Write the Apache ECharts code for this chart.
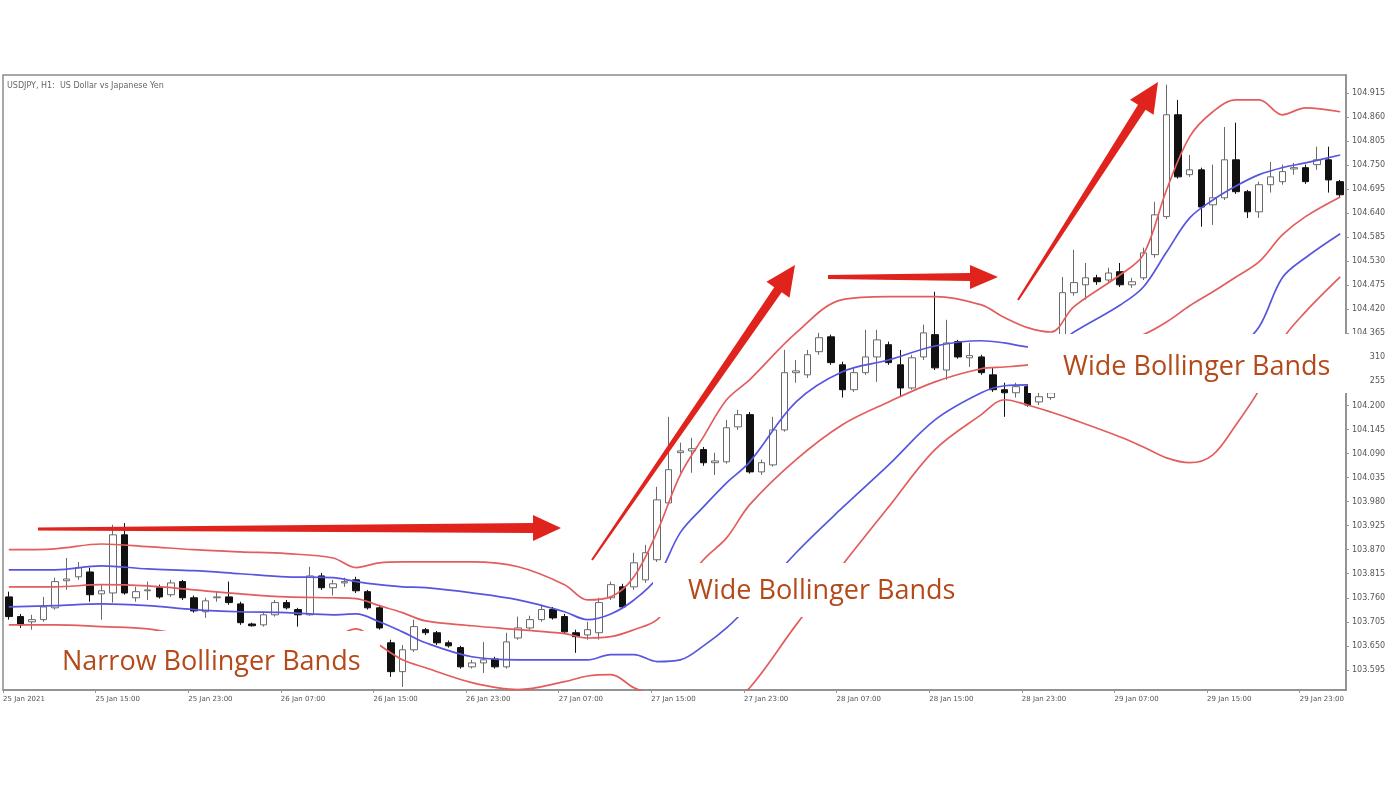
<!DOCTYPE html>
<html><head><meta charset="utf-8">
<script src="https://cdn.jsdelivr.net/npm/echarts@6/dist/echarts.min.js"></script>
<style>html,body{margin:0;padding:0;background:#fff}#c{width:1400px;height:787px}</style>
</head><body><div id="c"></div>
<script>
// ---- tick labels ----
const xTickLabels = ["25 Jan 2021","25 Jan 15:00","25 Jan 23:00","26 Jan 07:00","26 Jan 15:00","26 Jan 23:00","27 Jan 07:00","27 Jan 15:00","27 Jan 23:00","28 Jan 07:00","28 Jan 15:00","28 Jan 23:00","29 Jan 07:00","29 Jan 15:00","29 Jan 23:00"];
const yTickValues = [103.595,103.650,103.705,103.760,103.815,103.870,103.925,103.980,104.035,104.090,104.145,104.200,104.255,104.310,104.365,104.420,104.475,104.530,104.585,104.640,104.695,104.750,104.805,104.860,104.915];

// ---- H1 candles (USDJPY) ----
const opens = [103.762,103.717,103.705,103.710,103.737,103.799,103.808,103.819,103.769,103.771,103.904,103.760,103.776,103.783,103.767,103.797,103.760,103.728,103.760,103.762,103.746,103.700,103.698,103.721,103.749,103.733,103.721,103.810,103.783,103.794,103.801,103.774,103.737,103.657,103.591,103.641,103.687,103.680,103.657,103.646,103.602,103.611,103.620,103.602,103.668,103.691,103.710,103.733,103.717,103.680,103.675,103.680,103.760,103.785,103.785,103.801,103.847,103.977,104.092,104.096,104.099,104.069,104.071,104.151,104.179,104.048,104.064,104.144,104.275,104.270,104.323,104.357,104.293,104.236,104.275,104.311,104.339,104.293,104.240,104.311,104.362,104.281,104.346,104.309,104.311,104.270,104.236,104.229,104.243,104.208,104.218,104.339,104.458,104.476,104.492,104.487,104.506,104.476,104.492,104.545,104.632,104.865,104.728,104.739,104.659,104.675,104.762,104.689,104.643,104.705,104.712,104.741,104.744,104.751,104.762,104.712];
const highs = [103.774,103.723,103.721,103.762,103.806,103.851,103.842,103.829,103.790,103.927,103.931,103.785,103.797,103.790,103.801,103.801,103.765,103.760,103.774,103.797,103.751,103.703,103.728,103.755,103.755,103.737,103.831,103.817,103.801,103.806,103.808,103.778,103.744,103.664,103.652,103.710,103.691,103.684,103.662,103.650,103.618,103.659,103.625,103.680,103.717,103.719,103.744,103.739,103.723,103.687,103.705,103.760,103.797,103.792,103.863,103.881,104.014,104.174,104.115,104.126,104.105,104.092,104.167,104.190,104.185,104.076,104.174,104.327,104.304,104.327,104.366,104.362,104.300,104.286,104.373,104.373,104.346,104.327,104.316,104.385,104.460,104.396,104.350,104.343,104.316,104.286,104.252,104.252,104.247,104.229,104.236,104.494,104.556,104.526,104.499,104.515,104.526,104.492,104.561,104.666,104.934,104.899,104.773,104.744,104.751,104.837,104.847,104.693,104.712,104.757,104.751,104.755,104.751,104.792,104.792,104.716];
const lows = [103.710,103.691,103.687,103.705,103.733,103.778,103.801,103.751,103.710,103.749,103.767,103.751,103.755,103.758,103.762,103.755,103.726,103.714,103.751,103.744,103.698,103.694,103.694,103.717,103.733,103.694,103.719,103.778,103.765,103.785,103.771,103.733,103.687,103.579,103.556,103.636,103.675,103.652,103.646,103.598,103.598,103.588,103.598,103.598,103.664,103.687,103.705,103.710,103.678,103.634,103.664,103.664,103.755,103.735,103.778,103.794,103.842,103.973,104.046,104.046,104.062,104.041,104.067,104.144,104.044,104.041,104.060,104.140,104.252,104.263,104.316,104.293,104.218,104.231,104.270,104.254,104.293,104.220,104.236,104.304,104.281,104.259,104.307,104.288,104.270,104.231,104.174,104.218,104.197,104.201,104.213,104.304,104.451,104.442,104.476,104.481,104.471,104.469,104.487,104.538,104.627,104.719,104.723,104.609,104.613,104.670,104.684,104.629,104.629,104.687,104.705,104.728,104.707,104.739,104.687,104.677];
const closes = [103.717,103.698,103.710,103.739,103.797,103.803,103.829,103.767,103.776,103.904,103.771,103.774,103.778,103.762,103.794,103.760,103.730,103.753,103.762,103.749,103.703,103.696,103.721,103.749,103.737,103.721,103.810,103.783,103.792,103.797,103.776,103.737,103.691,103.591,103.641,103.694,103.680,103.657,103.650,103.602,103.611,103.618,103.602,103.659,103.691,103.710,103.733,103.714,103.682,103.671,103.687,103.749,103.790,103.739,103.840,103.863,103.984,104.053,104.096,104.101,104.069,104.073,104.149,104.179,104.048,104.069,104.144,104.275,104.279,104.316,104.355,104.298,104.236,104.275,104.311,104.350,104.298,104.240,104.309,104.366,104.286,104.343,104.311,104.314,104.275,104.236,104.229,104.243,104.201,104.220,104.229,104.458,104.481,104.492,104.483,104.503,104.476,104.483,104.549,104.636,104.865,104.723,104.739,104.654,104.675,104.762,104.689,104.643,104.705,104.723,104.735,104.744,104.712,104.762,104.716,104.682];

// ---- Bollinger lines, read at these bar indices ----
const bandIdx = [0,4,8,12,16,20,24,28,30,32,34,36,40,44,48,50,52,54,56,58,60,62,64,68,72,76,80,84,86,88,90,92,96,98,100,102,104,106,108,110,112,115];
const redUpper = [103.870,103.872,103.883,103.877,103.870,103.865,103.861,103.851,103.829,103.840,103.842,103.842,103.842,103.831,103.790,103.755,103.762,103.808,103.911,104.041,104.128,104.213,104.259,104.366,104.442,104.449,104.449,104.430,104.401,104.378,104.368,104.426,104.499,104.545,104.693,104.815,104.872,104.899,104.899,104.865,104.881,104.872];
const blueUpper = [103.824,103.824,103.833,103.826,103.822,103.815,103.808,103.806,103.797,103.790,103.785,103.783,103.771,103.755,103.728,103.710,103.723,103.755,103.806,103.909,103.968,104.023,104.071,104.208,104.277,104.304,104.336,104.348,104.343,104.334,104.332,104.368,104.430,104.471,104.551,104.629,104.670,104.702,104.728,104.744,104.755,104.773];
const redMiddle = [103.785,103.785,103.790,103.787,103.778,103.769,103.762,103.760,103.758,103.742,103.726,103.707,103.696,103.687,103.678,103.668,103.671,103.687,103.710,103.778,103.847,103.897,103.973,104.076,104.156,104.208,104.254,104.284,104.288,104.293,104.304,104.316,104.343,104.362,104.391,104.428,104.460,104.494,104.529,104.590,104.632,104.677];
const blueLower = [103.739,103.742,103.746,103.742,103.733,103.728,103.726,103.721,103.723,103.705,103.682,103.657,103.625,103.618,103.618,103.618,103.630,103.630,103.614,103.618,103.650,103.691,103.744,103.863,103.966,104.064,104.167,104.229,104.245,104.247,104.245,104.243,104.236,104.236,104.236,104.250,104.275,104.325,104.380,104.492,104.538,104.593];
const redLower = [103.698,103.698,103.694,103.689,103.673,103.671,103.671,103.673,103.689,103.652,103.618,103.600,103.566,103.550,103.568,103.581,103.584,103.554,103.533,103.504,103.492,103.515,103.554,103.698,103.835,103.968,104.099,104.179,104.213,104.201,104.185,104.167,104.128,104.105,104.080,104.069,104.087,104.156,104.236,104.350,104.414,104.494];

const categories = opens.map((_, i) => String(i));
const candleData = opens.map((o, i) => [o, closes[i], lows[i], highs[i]]);

function lineSeries(vals, color) {
  return {
    type: 'line', data: bandIdx.map((b, k) => [b, vals[k]]),
    smooth: 0.35, symbol: 'none', clip: true, z: 3,
    lineStyle: { color: color, width: 1.7 }
  };
}

function arrowPts(x0, y0, x1, y1, w0, w1, hl, hw) {
  const dx = x1 - x0, dy = y1 - y0, L = Math.hypot(dx, dy);
  const ux = dx / L, uy = dy / L, px = -uy, py = ux;
  const bx = x1 - ux * hl, by = y1 - uy * hl;
  return [[x0 + px * w0, y0 + py * w0], [bx + px * w1, by + py * w1], [bx + px * hw, by + py * hw], [x1, y1],
          [bx - px * hw, by - py * hw], [bx - px * w1, by - py * w1], [x0 - px * w0, y0 - py * w0]];
}
const arrowColor = '#e0231c';
const noteColor = '#b4491a';
const noteFont = '27px "Open Sans"';

const chart = echarts.init(document.getElementById('c'), null, { renderer: 'canvas' });
chart.setOption({
  animation: false,
  backgroundColor: '#ffffff',
  title: { text: 'USDJPY, H1:  US Dollar vs Japanese Yen', left: 2, top: 77,
           textStyle: { fontSize: 8, fontWeight: 'normal', color: '#666', fontFamily: 'DejaVu Sans' } },
  grid: { left: 2, right: 54, top: 75, bottom: 97, show: true, borderColor: '#8c8c8c', borderWidth: 1.5 },
  xAxis: [{
    type: 'category', data: categories, boundaryGap: true,
    axisLine: { onZero: false, lineStyle: { color: '#8c8c8c', width: 1.5 } },
    axisTick: { show: false }, axisLabel: { show: false }, splitLine: { show: false }
  }, {
    type: 'value', min: 0, max: categories.length, interval: 8, position: 'bottom',
    axisLine: { show: false, onZero: false },
    axisTick: { show: true, length: 3, lineStyle: { color: '#999' } },
    axisLabel: { align: 'left', fontSize: 7, color: '#555', margin: 6, fontFamily: 'DejaVu Sans',
                 showMaxLabel: false,
                 formatter: (v) => (v % 8 === 0 && xTickLabels[v / 8]) ? xTickLabels[v / 8] : '' },
    splitLine: { show: false }
  }],
  yAxis: {
    type: 'value', position: 'right', min: 103.549, max: 104.956, scale: true,
    axisLine: { show: true, onZero: false, lineStyle: { color: '#8c8c8c', width: 1.5 } },
    axisTick: { show: true, customValues: yTickValues, length: 3, lineStyle: { color: '#999' } },
    axisLabel: { customValues: yTickValues, fontSize: 8, color: '#555', margin: 6, fontFamily: 'DejaVu Sans',
                 formatter: (v) => Number(v).toFixed(3) },
    splitLine: { show: false }
  },
  series: [
    { type: 'candlestick', data: candleData, barWidth: 7, z: 2,
      itemStyle: { color: '#ffffff', color0: '#111111', borderColor: '#6a6a6a', borderColor0: '#111111', borderWidth: 1 } },
    lineSeries(redUpper, '#e35d5d'),
    lineSeries(blueUpper, '#5656e0'),
    lineSeries(redMiddle, '#e35d5d'),
    lineSeries(blueLower, '#5656e0'),
    lineSeries(redLower, '#e35d5d')
  ],
  graphic: [
    { type: 'rect', shape: { x: 40, y: 631, width: 340, height: 58 }, style: { fill: '#fff' }, z: 90 },
    { type: 'rect', shape: { x: 653, y: 563, width: 337, height: 54 }, style: { fill: '#fff' }, z: 90 },
    { type: 'rect', shape: { x: 1028, y: 334, width: 341, height: 59 }, style: { fill: '#fff' }, z: 90 },
    { type: 'text', x: 62, y: 662, style: { text: 'Narrow Bollinger Bands', font: noteFont, fill: noteColor, verticalAlign: 'middle' }, z: 95 },
    { type: 'text', x: 688, y: 591, style: { text: 'Wide Bollinger Bands', font: noteFont, fill: noteColor, verticalAlign: 'middle' }, z: 95 },
    { type: 'text', x: 1063, y: 367, style: { text: 'Wide Bollinger Bands', font: noteFont, fill: noteColor, verticalAlign: 'middle' }, z: 95 },
    { type: 'polygon', shape: { points: arrowPts(38, 529, 561, 528, 1.5, 5, 28, 13) }, style: { fill: arrowColor }, z: 100 },
    { type: 'polygon', shape: { points: arrowPts(592, 560, 795, 265, 1, 4.5, 30, 14) }, style: { fill: arrowColor }, z: 100 },
    { type: 'polygon', shape: { points: arrowPts(828, 277, 998, 277, 2, 4, 28, 12) }, style: { fill: arrowColor }, z: 100 },
    { type: 'polygon', shape: { points: arrowPts(1018, 300, 1158, 82, 1, 4.5, 30, 14) }, style: { fill: arrowColor }, z: 100 }
  ]
});
</script></body></html>
